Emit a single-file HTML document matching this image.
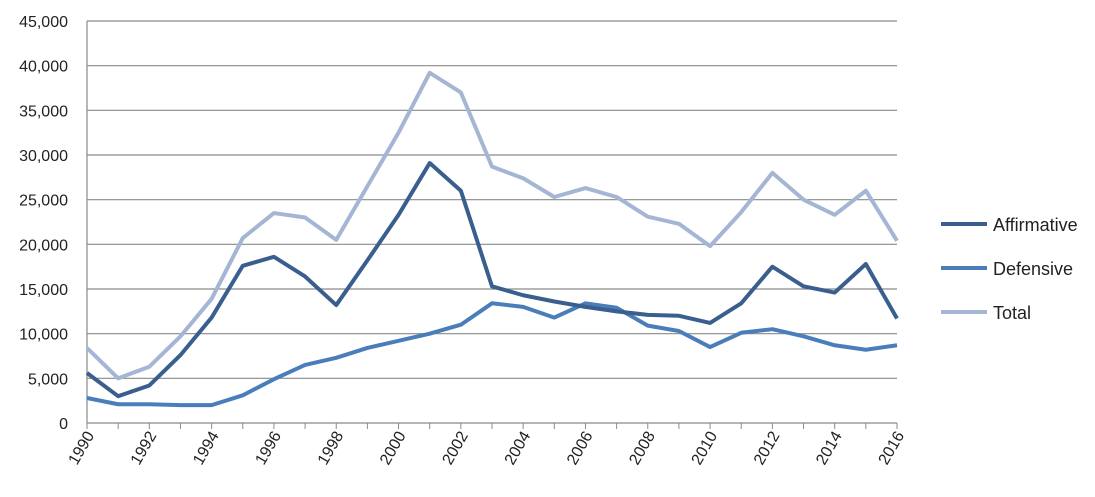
<!DOCTYPE html>
<html><head><meta charset="utf-8"><style>
body{margin:0;background:#fff;font-family:"Liberation Sans",sans-serif}
svg text{font-family:"Liberation Sans",sans-serif;fill:#222}
</style></head><body>
<svg id="chart" width="1095" height="492" xmlns="http://www.w3.org/2000/svg"></svg>
<script>
const years=[1990,1991,1992,1993,1994,1995,1996,1997,1998,1999,2000,2001,2002,2003,2004,2005,2006,2007,2008,2009,2010,2011,2012,2013,2014,2015,2016];
const affirmative=[5600,3000,4200,7600,11800,17600,18600,16400,13200,18200,23300,29100,26000,15300,14300,13600,13000,12500,12100,12000,11200,13400,17500,15300,14600,17800,11700];
const defensive=[2800,2100,2100,2000,2000,3100,4900,6500,7300,8400,9200,10000,11000,13400,13000,11800,13400,12900,10900,10300,8500,10100,10500,9700,8700,8200,8700];
const total=[8400,5000,6300,9700,13900,20700,23500,23000,20500,26500,32500,39200,37000,28700,27400,25300,26300,25300,23100,22300,19800,23600,28000,25000,23300,26000,20400];
const yTicks=[0,5000,10000,15000,20000,25000,30000,35000,40000,45000];
const xTickLabels=[1990,1992,1994,1996,1998,2000,2002,2004,2006,2008,2010,2012,2014,2016];

const svg=document.getElementById('chart');
const NS='http://www.w3.org/2000/svg';
const L=87,R=897,T=21,B=423;
const x=y=>L+(y-years[0])/(years[years.length-1]-years[0])*(R-L);
const yS=v=>B-v/45000*(B-T);
function el(tag,attrs){const e=document.createElementNS(NS,tag);for(const k in attrs)e.setAttribute(k,attrs[k]);svg.appendChild(e);return e;}

yTicks.forEach(v=>{
  const g=el('line',{x1:L,x2:R,y1:yS(v),y2:yS(v),stroke:'#8a8a8a','stroke-width':1.2});
  
  
  const t=el('text',{x:L-19,y:yS(v)+6,'text-anchor':'end','font-size':16});
  t.textContent=v.toLocaleString('en-US');
  
  
});
const ax=el('line',{x1:L,x2:L,y1:T,y2:B,stroke:'#8a8a8a','stroke-width':1.2});


years.forEach(yr=>{
  const tk=el('line',{x1:x(yr),x2:x(yr),y1:B,y2:B+6,stroke:'#8a8a8a','stroke-width':1});
  
  
});
xTickLabels.forEach(yr=>{
  const px=x(yr)+4,py=B+10;
  const t=el('text',{x:px,y:py,'text-anchor':'end','font-size':16,transform:`rotate(-60 ${px} ${py})`,'dominant-baseline':'middle'});
  t.textContent=yr;
  
  
});
const series=[['total',total,'#a5b5d4'],['defensive',defensive,'#4a7ebb'],['affirmative',affirmative,'#3a5f8f']];
series.forEach(([n,d,c])=>{
  const p=el('polyline',{points:d.map((v,i)=>x(years[i])+','+yS(v)).join(' '),fill:'none',stroke:c,'stroke-width':4,'stroke-linejoin':'round'});
  
  
});
const leg=[['Affirmative','#3a5f8f',224],['Defensive','#4a7ebb',268],['Total','#a5b5d4',312]];
leg.forEach(([n,c,yy])=>{
  const l=el('line',{x1:941,x2:987,y1:yy,y2:yy,stroke:c,'stroke-width':4});
  
  
  const t=el('text',{x:993,y:yy+7,'font-size':18});
  t.textContent=n;
  
  
});
</script>
</body></html>
